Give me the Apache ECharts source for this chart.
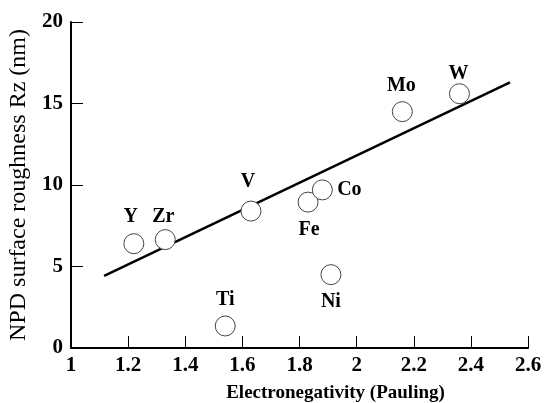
<!DOCTYPE html>
<html>
<head>
<meta charset="utf-8">
<script src="https://cdn.jsdelivr.net/npm/echarts@6/dist/echarts.min.js"></script>
<style>
  html, body { margin: 0; padding: 0; background: #fff; }
  #chart { width: 544px; height: 403px; }
</style>
</head>
<body>
<div id="chart"></div>
<script>
// element data
var elements = ['Y', 'Zr', 'Ti', 'V', 'Fe', 'Co', 'Ni', 'Mo', 'W'];
var electroneg = [1.22, 1.33, 1.54, 1.63, 1.83, 1.88, 1.91, 2.16, 2.36];
var roughness = [6.4, 6.65, 1.35, 8.4, 8.95, 9.7, 4.5, 14.5, 15.6];
// fitted trend line end points
var fitX = [1.116, 2.537];
var fitY = [4.42, 16.3];
var xTicks = [1, 1.2, 1.4, 1.6, 1.8, 2, 2.2, 2.4, 2.6];
var yTicks = [0, 5, 10, 15, 20];

// label offsets (px) around each circle
var labelOffsets = [[-3, -27], [-2, -23], [0, -26], [-3, -29], [1, 28], [27, 0], [0, 27], [-1, -26], [-1, -20]];

var chart = echarts.init(document.getElementById('chart'));

var serif = '"Liberation Serif", "DejaVu Serif", serif';

var points = elements.map(function (name, i) {
  return {
    name: name,
    value: [electroneg[i], roughness[i]],
    label: { offset: labelOffsets[i] }
  };
});

var option = {
  animation: false,
  grid: { left: 71, right: 16, top: 22, bottom: 55, outerBoundsMode: 'none' },
  xAxis: {
    type: 'value',
    min: xTicks[0],
    max: xTicks[xTicks.length - 1],
    interval: 0.2,
    name: 'Electronegativity (Pauling)',
    nameLocation: 'middle',
    nameGap: 36,
    nameTextStyle: {
      fontFamily: serif, fontWeight: 'bold', fontSize: 19, color: '#000',
      padding: [0, 0, 0, 72]
    },
    axisLine: { lineStyle: { color: '#000', width: 2 } },
    axisTick: { inside: true, length: 12, lineStyle: { color: '#000', width: 1 } },
    axisLabel: {
      margin: 7,
      fontFamily: serif, fontWeight: 'bold', fontSize: 21, color: '#000',
      formatter: function (v) { return String(Math.round(v * 10) / 10); }
    },
    splitLine: { show: false }
  },
  yAxis: {
    type: 'value',
    min: yTicks[0],
    max: yTicks[yTicks.length - 1],
    interval: 5,
    name: 'NPD surface roughness Rz (nm)',
    nameLocation: 'middle',
    nameGap: 37,
    nameTextStyle: { fontFamily: serif, fontSize: 24, color: '#000' },
    axisLine: { lineStyle: { color: '#000', width: 2 } },
    axisTick: { inside: true, length: 12, lineStyle: { color: '#000', width: 1 } },
    axisLabel: { margin: 8, fontFamily: serif, fontWeight: 'bold', fontSize: 21, color: '#000' },
    splitLine: { show: false }
  },
  series: [
    {
      type: 'line',
      data: fitX.map(function (x, i) { return [x, fitY[i]]; }),
      symbol: 'none',
      lineStyle: { color: '#000', width: 2.5 },
      z: 1
    },
    {
      type: 'scatter',
      data: points,
      symbol: 'circle',
      symbolSize: 20,
      itemStyle: { color: '#fff', borderColor: '#444', borderWidth: 1, opacity: 1 },
      label: {
        show: true,
        position: 'inside',
        formatter: '{b}',
        fontFamily: serif, fontWeight: 'bold', fontSize: 20, color: '#000'
      },
      z: 2
    }
  ]
};

chart.setOption(option);
</script>
</body>
</html>
